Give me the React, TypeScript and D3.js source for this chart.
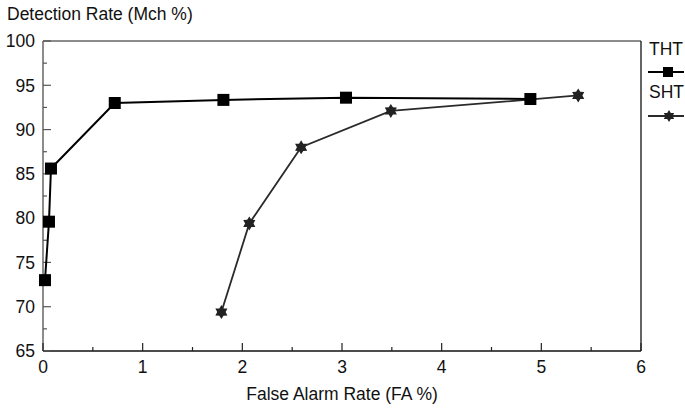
import React, { useEffect, useRef } from 'react';
import * as d3 from 'd3';

// THT series (square markers)
const thtFA = [0.02, 0.06, 0.08, 0.72, 1.81, 3.04, 4.89];
const thtMch = [73.0, 79.6, 85.6, 93.0, 93.35, 93.6, 93.45];

// SHT series (star markers)
const shtFA = [1.79, 2.07, 2.59, 3.49, 5.37];
const shtMch = [69.4, 79.4, 88.0, 92.1, 93.85];

const xTicks = [0, 1, 2, 3, 4, 5, 6];
const yTicks = [65, 70, 75, 80, 85, 90, 95, 100];

const FONT = 'Liberation Sans, Arial, Helvetica, sans-serif';
const FS = 17.5;

// six-pointed star path centred on 0,0
function hexagram(r: number) {
  const pts: [number, number][] = [];
  for (let i = 0; i < 12; i++) {
    const a = (Math.PI / 6) * i - Math.PI / 2;
    const rr = i % 2 === 0 ? r : r * 0.6;
    pts.push([Math.cos(a) * rr, Math.sin(a) * rr]);
  }
  return 'M' + pts.map((p) => p.join(',')).join('L') + 'Z';
}

export default function App() {
  const svgRef = useRef<SVGSVGElement>(null);

  useEffect(() => {
    const width = 685;
    const height = 408;
    const m = { left: 43, right: 641, top: 41, bottom: 351 };

    const svg = d3.select(svgRef.current);
    svg.selectAll('*').remove();

    const x = d3.scaleLinear().domain([0, 6]).range([m.left, m.right]);
    const y = d3.scaleLinear().domain([65, 100]).range([m.bottom, m.top]);

    // frame
    svg.append('line').attr('x1', m.left).attr('x2', m.right).attr('y1', m.top).attr('y2', m.top)
      .attr('stroke', '#666').attr('stroke-width', 1.3);
    svg.append('line').attr('x1', m.left).attr('x2', m.left).attr('y1', m.top).attr('y2', m.bottom)
      .attr('stroke', '#666').attr('stroke-width', 1.5);
    svg.append('line').attr('x1', m.right).attr('x2', m.right).attr('y1', m.top).attr('y2', m.bottom)
      .attr('stroke', '#111').attr('stroke-width', 1.3);
    svg.append('line').attr('x1', m.left).attr('x2', m.right).attr('y1', m.bottom).attr('y2', m.bottom)
      .attr('stroke', '#111').attr('stroke-width', 1.5);

    // y ticks (inward)
    const yMinor = d3.range(65, 100.01, 2.5);
    svg.append('g').selectAll('line').data(yMinor).join('line')
      .attr('x1', m.left)
      .attr('x2', (d) => m.left + (d % 5 === 0 ? 8 : 4))
      .attr('y1', (d) => y(d)).attr('y2', (d) => y(d))
      .attr('stroke', '#555').attr('stroke-width', 1.2);
    svg.append('g').selectAll('text').data(yTicks).join('text')
      .attr('x', m.left - 8).attr('y', (d) => y(d)).attr('dy', '0.36em')
      .attr('text-anchor', 'end').attr('font-family', FONT).attr('font-size', FS)
      .attr('fill', '#111').text((d) => d);

    // x ticks (inward)
    const xMinor = d3.range(0, 6.01, 0.5);
    svg.append('g').selectAll('line').data(xMinor).join('line')
      .attr('y1', m.bottom)
      .attr('y2', (d) => m.bottom - (d % 1 === 0 ? 8 : 4))
      .attr('x1', (d) => x(d)).attr('x2', (d) => x(d))
      .attr('stroke', '#222').attr('stroke-width', 1.2);
    svg.append('g').selectAll('text').data(xTicks).join('text')
      .attr('x', (d) => x(d)).attr('y', m.bottom + 22)
      .attr('text-anchor', 'middle').attr('font-family', FONT).attr('font-size', FS)
      .attr('fill', '#111').text((d) => d);

    // titles
    svg.append('text').attr('x', 7).attr('y', 20).attr('font-family', FONT).attr('font-size', FS)
      .attr('fill', '#111').text('Detection Rate (Mch %)');
    svg.append('text').attr('x', (m.left + m.right) / 2).attr('y', 400)
      .attr('text-anchor', 'middle').attr('font-family', FONT).attr('font-size', FS)
      .attr('fill', '#111').text('False Alarm Rate (FA %)');

    const line = d3.line<[number, number]>().x((d) => x(d[0])).y((d) => y(d[1]));

    const tht = thtFA.map((v, i) => [v, thtMch[i]] as [number, number]);
    const sht = shtFA.map((v, i) => [v, shtMch[i]] as [number, number]);

    svg.append('path').datum(sht).attr('d', line).attr('fill', 'none')
      .attr('stroke', '#2a2a2a').attr('stroke-width', 1.8);
    svg.append('path').datum(tht).attr('d', line).attr('fill', 'none')
      .attr('stroke', '#000').attr('stroke-width', 2);

    const sq = 12;
    svg.append('g').selectAll('rect').data(tht).join('rect')
      .attr('x', (d) => x(d[0]) - sq / 2).attr('y', (d) => y(d[1]) - sq / 2)
      .attr('width', sq).attr('height', sq).attr('fill', '#000');
    svg.append('g').selectAll('path').data(sht).join('path')
      .attr('d', hexagram(7))
      .attr('transform', (d) => `translate(${x(d[0])},${y(d[1])})`)
      .attr('fill', '#222');

    // legend
    const lg = svg.append('g').attr('font-family', FONT).attr('font-size', FS).attr('fill', '#111');
    lg.append('text').attr('x', 649).attr('y', 55).text('THT');
    lg.append('line').attr('x1', 648).attr('x2', 684).attr('y1', 72).attr('y2', 72)
      .attr('stroke', '#000').attr('stroke-width', 2);
    lg.append('rect').attr('x', 663).attr('y', 67).attr('width', 10).attr('height', 10).attr('fill', '#000');
    lg.append('text').attr('x', 649).attr('y', 98).text('SHT');
    lg.append('line').attr('x1', 648).attr('x2', 684).attr('y1', 116).attr('y2', 116)
      .attr('stroke', '#2a2a2a').attr('stroke-width', 1.8);
    lg.append('path').attr('d', hexagram(6)).attr('transform', 'translate(669,116)').attr('fill', '#222');

    svg.attr('width', width).attr('height', height);
  }, []);

  return (
    <div style={{ position: 'absolute', left: 0, top: 0 }}>
      <svg ref={svgRef} width={685} height={408} style={{ display: 'block' }}></svg>
    </div>
  );
}
